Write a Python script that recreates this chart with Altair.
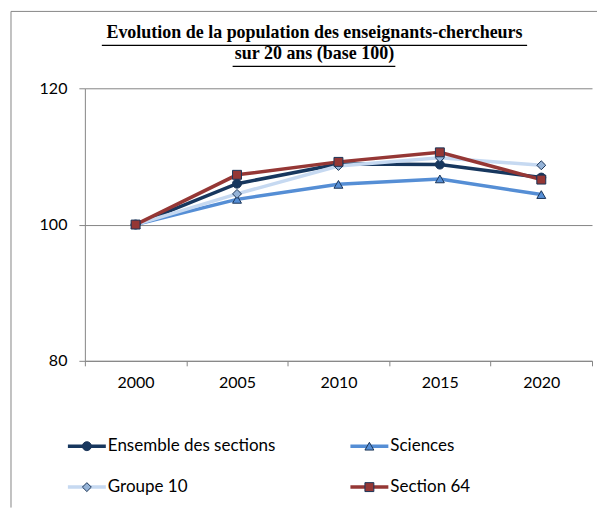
import altair as alt
import pandas as pd

years = ["2000", "2005", "2010", "2015", "2020"]
series = ["Ensemble des sections", "Sciences", "Groupe 10", "Section 64"]
ensemble = [100, 106.0, 108.9, 108.8, 106.9]
sciences = [100, 103.7, 105.9, 106.7, 104.4]
groupe10 = [100, 104.5, 108.6, 109.8, 108.7]
section64 = [100, 107.3, 109.2, 110.6, 106.6]
line_colors = ["#17375E", "#558ED5", "#C6D9F1", "#953735"]
marker_fills = ["#17375E", "#558ED5", "#95B3D7", "#953735"]
shapes = ["circle", "triangle-up", "diamond", "square"]
y_ticks = [80, 100, 120]
title_lines = ["Evolution de la population des enseignants-chercheurs",
               "sur 20 ans (base 100)"]
legend_col = [0, 1, 0, 1]
legend_row = [0, 0, 1, 1]

rows = []
for s, vals in zip(series, [ensemble, sciences, groupe10, section64]):
    for yr, v in zip(years, vals):
        rows.append({"series": s, "year": yr, "value": v})
df = pd.DataFrame(rows)

GRAY = "#868686"
FONT = "Lato"

color = alt.Color("series:N", scale=alt.Scale(domain=series, range=line_colors), legend=None)
fill = alt.Fill("series:N", scale=alt.Scale(domain=series, range=marker_fills), legend=None)
shape = alt.Shape("series:N", scale=alt.Scale(domain=series, range=shapes), legend=None)

x = alt.X("year:O", sort=years,
          scale=alt.Scale(type="band", paddingInner=0, paddingOuter=0),
          axis=alt.Axis(title=None, labelAngle=0, tickBand="extent", domainColor=GRAY,
                        tickColor=GRAY, tickSize=5, labelPadding=9, labelFont=FONT,
                        labelFontSize=16, labelColor="black", grid=False))
y = alt.Y("value:Q", scale=alt.Scale(domain=[80, 120], nice=False, zero=False),
          axis=alt.Axis(title=None, values=y_ticks, grid=True, gridColor=GRAY, gridOpacity=1,
                        domainColor=GRAY, tickColor=GRAY, tickSize=6, labelPadding=12,
                        labelFont=FONT, labelFontSize=16, labelColor="black"))

base = alt.Chart(df)
lines = base.mark_line(strokeWidth=3.5).encode(x=x, y=y, color=color, detail="series:N")
points = base.mark_point(filled=True, size=80, stroke="#1B3558", strokeWidth=1, opacity=1).encode(
    x=x, y=y, fill=fill, shape=shape)

deco = pd.DataFrame({"k": [0]})
frame_left = alt.Chart(deco).mark_rule(color=GRAY, strokeWidth=1).encode(
    x=alt.value(-74), y=alt.value(-77), y2=alt.value(420))
frame_top = alt.Chart(deco).mark_rule(color=GRAY, strokeWidth=1).encode(
    x=alt.value(-74), x2=alt.value(513), y=alt.value(-77))
ul1 = alt.Chart(deco).mark_rule(color="black", strokeWidth=1.3).encode(
    x=alt.value(17), x2=alt.value(443), y=alt.value(-43))
ul2 = alt.Chart(deco).mark_rule(color="black", strokeWidth=1.3).encode(
    x=alt.value(148), x2=alt.value(311), y=alt.value(-22))

main = alt.layer(frame_left, frame_top, ul1, ul2, lines, points).properties(
    width=508, height=273,
    title=alt.Title(text=title_lines, font="Liberation Serif", fontSize=18, fontWeight="bold",
                    color="black", anchor="middle", dx=-24, dy=66, lineHeight=21, offset=14))

leg = pd.DataFrame({"series": series, "col": legend_col, "row": legend_row})
lx = alt.X("col:O", scale=alt.Scale(type="point", padding=0.00707), axis=None)
ly = alt.Y("row:O", scale=alt.Scale(type="point", padding=0.5), axis=None)
lbase = alt.Chart(leg)
leg_line = lbase.mark_rule(strokeWidth=3.5, xOffset=-19, x2Offset=19).encode(
    x=lx, x2=alt.X2("col"), y=ly, color=color)
leg_pt = lbase.mark_point(filled=True, size=80, stroke="#1B3558", strokeWidth=1, opacity=1).encode(
    x=lx, y=ly, fill=fill, shape=shape)
leg_txt = lbase.mark_text(align="left", baseline="middle", dx=21, font=FONT, fontSize=17,
                          color="black").encode(x=lx, y=ly, text="series:N")
legend = alt.layer(leg_line, leg_pt, leg_txt).properties(width=287, height=82)

chart = alt.vconcat(main, legend, spacing=65, bounds="flush").properties(
    padding={"left": 2, "top": 2, "right": 0, "bottom": 0}
).configure_view(stroke=None)

chart.save("out.html", embed_options={"renderer": "svg", "actions": False})
